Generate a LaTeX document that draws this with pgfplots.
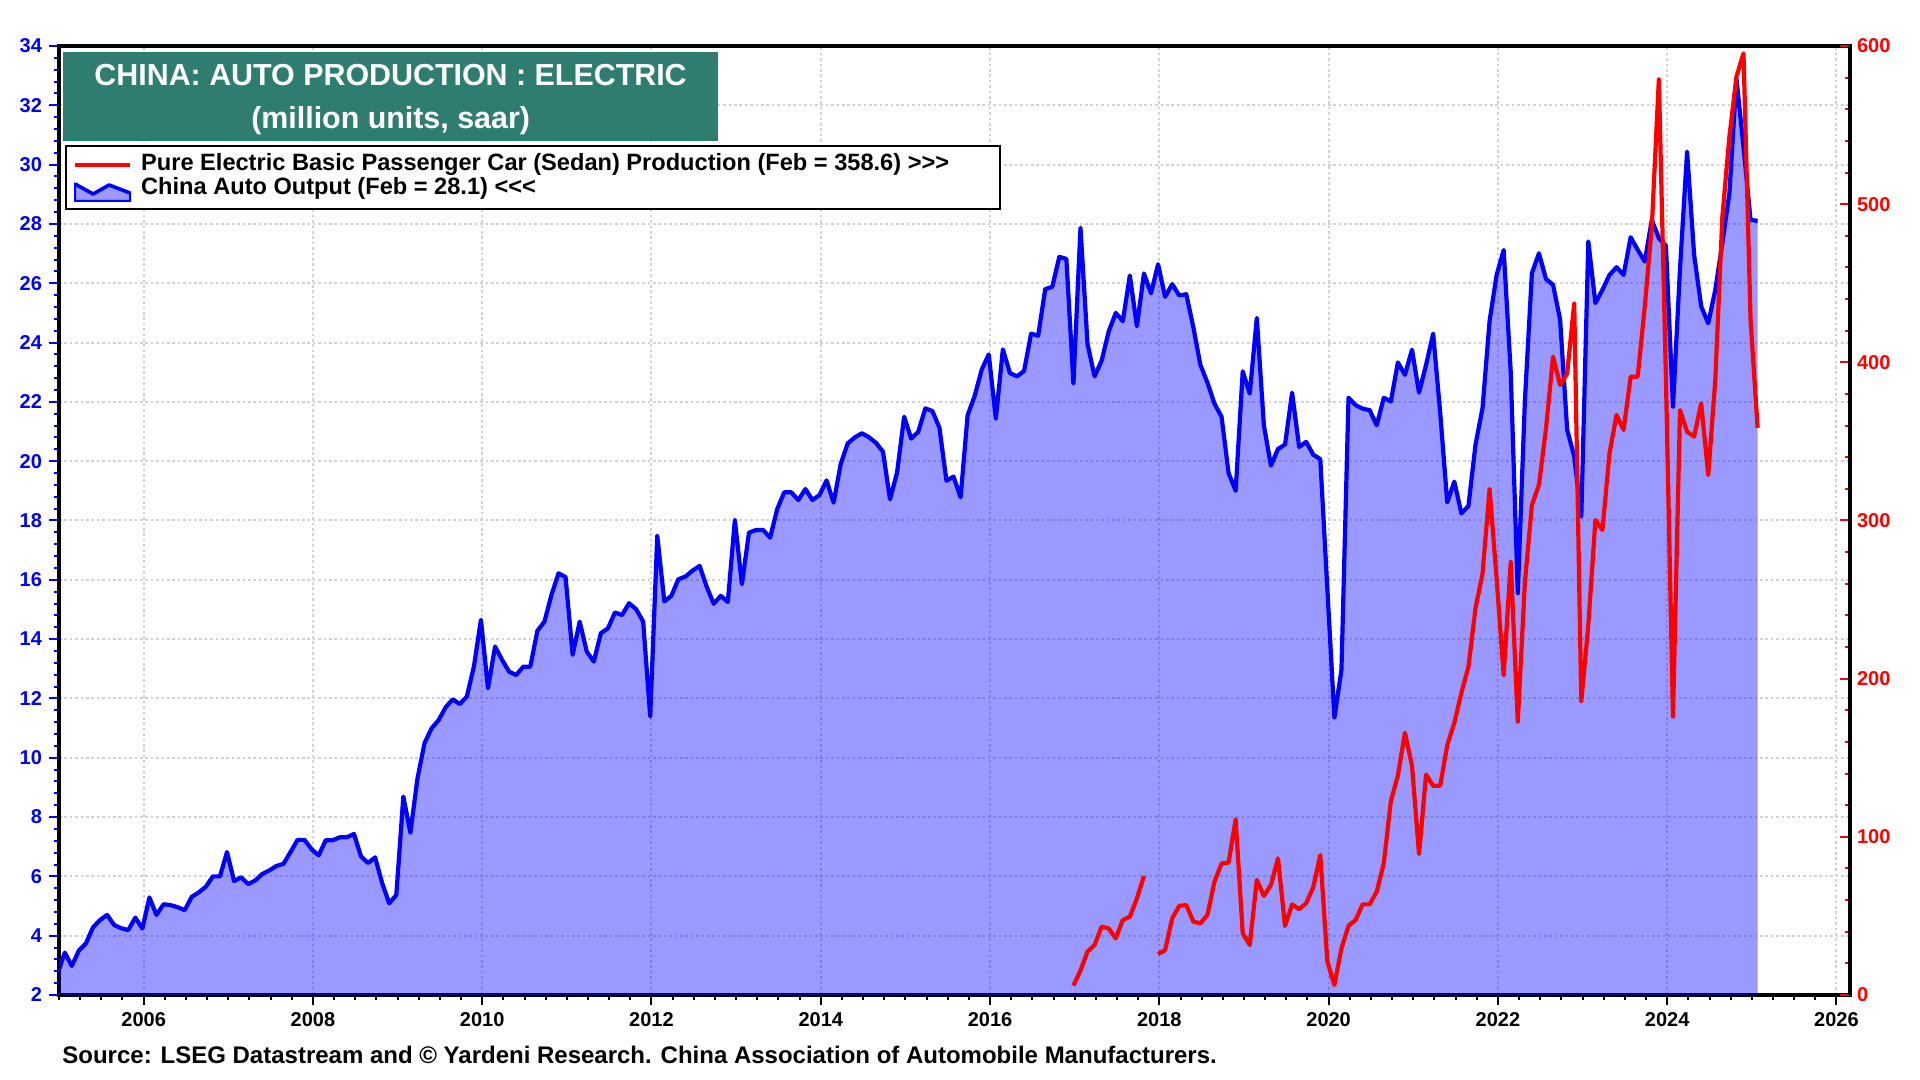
\documentclass[border=0pt]{standalone}
\usepackage{pgfplots}
\pgfplotsset{compat=1.18}
\usepackage{pgfplotstable}
\usepackage{fontspec}
\setmainfont{Liberation Sans}
\definecolor{titlebox}{RGB}{47,125,112}

% China auto output, million units saar (k = months since Jan 2005)
\pgfplotstableread[row sep=\\]{
k v\\
0 2.73\\ 1 3.43\\ 2 2.98\\ 3 3.50\\ 4 3.74\\ 5 4.28\\ 6 4.53\\ 7 4.70\\ 8 4.36\\ 9 4.25\\ 10 4.19\\ 11 4.61\\
12 4.24\\ 13 5.29\\ 14 4.70\\ 15 5.06\\ 16 5.03\\ 17 4.96\\ 18 4.86\\ 19 5.31\\ 20 5.46\\ 21 5.65\\ 22 6.00\\ 23 6.00\\
24 6.82\\ 25 5.84\\ 26 5.97\\ 27 5.74\\ 28 5.86\\ 29 6.08\\ 30 6.20\\ 31 6.35\\ 32 6.42\\ 33 6.82\\ 34 7.23\\ 35 7.23\\
36 6.91\\ 37 6.71\\ 38 7.22\\ 39 7.22\\ 40 7.32\\ 41 7.32\\ 42 7.43\\ 43 6.67\\ 44 6.45\\ 45 6.64\\ 46 5.77\\ 47 5.09\\
48 5.37\\ 49 8.69\\ 50 7.47\\ 51 9.30\\ 52 10.49\\ 53 10.99\\ 54 11.27\\ 55 11.70\\ 56 11.97\\ 57 11.81\\ 58 12.06\\ 59 13.07\\
60 14.65\\ 61 12.34\\ 62 13.75\\ 63 13.30\\ 64 12.90\\ 65 12.79\\ 66 13.07\\ 67 13.07\\ 68 14.28\\ 69 14.59\\ 70 15.49\\ 71 16.22\\
72 16.09\\ 73 13.47\\ 74 14.59\\ 75 13.58\\ 76 13.24\\ 77 14.20\\ 78 14.36\\ 79 14.90\\ 80 14.81\\ 81 15.21\\ 82 15.01\\ 83 14.59\\
84 11.39\\ 85 17.49\\ 86 15.27\\ 87 15.46\\ 88 16.02\\ 89 16.11\\ 90 16.31\\ 91 16.47\\ 92 15.77\\ 93 15.19\\ 94 15.46\\ 95 15.25\\
96 18.02\\ 97 15.85\\ 98 17.59\\ 99 17.68\\ 100 17.68\\ 101 17.42\\ 102 18.38\\ 103 18.95\\ 104 18.95\\ 105 18.69\\ 106 19.06\\ 107 18.69\\
108 18.86\\ 109 19.35\\ 110 18.60\\ 111 19.90\\ 112 20.60\\ 113 20.80\\ 114 20.94\\ 115 20.81\\ 116 20.62\\ 117 20.32\\ 118 18.71\\ 119 19.62\\
120 21.50\\ 121 20.76\\ 122 20.99\\ 123 21.78\\ 124 21.69\\ 125 21.13\\ 126 19.34\\ 127 19.48\\ 128 18.78\\ 129 21.55\\ 130 22.20\\ 131 23.09\\
132 23.60\\ 133 21.43\\ 134 23.77\\ 135 22.97\\ 136 22.86\\ 137 23.04\\ 138 24.30\\ 139 24.23\\ 140 25.80\\ 141 25.88\\ 142 26.89\\ 143 26.82\\
144 22.62\\ 145 27.87\\ 146 23.95\\ 147 22.86\\ 148 23.39\\ 149 24.37\\ 150 25.00\\ 151 24.72\\ 152 26.26\\ 153 24.55\\ 154 26.33\\ 155 25.66\\
156 26.64\\ 157 25.54\\ 158 25.97\\ 159 25.59\\ 160 25.63\\ 161 24.52\\ 162 23.25\\ 163 22.65\\ 164 21.94\\ 165 21.50\\ 166 19.60\\ 167 19.00\\
168 23.03\\ 169 22.28\\ 170 24.83\\ 171 21.21\\ 172 19.85\\ 173 20.41\\ 174 20.56\\ 175 22.31\\ 176 20.48\\ 177 20.65\\ 178 20.22\\ 179 20.07\\
180 15.69\\ 181 11.35\\ 182 12.97\\ 183 22.14\\ 184 21.89\\ 185 21.77\\ 186 21.72\\ 187 21.21\\ 188 22.14\\ 189 22.01\\ 190 23.33\\ 191 22.91\\
192 23.76\\ 193 22.31\\ 194 23.25\\ 195 24.30\\ 196 21.63\\ 197 18.61\\ 198 19.31\\ 199 18.24\\ 200 18.49\\ 201 20.55\\ 202 21.79\\ 203 24.73\\
204 26.28\\ 205 27.12\\ 206 23.00\\ 207 15.55\\ 208 22.00\\ 209 26.34\\ 210 27.01\\ 211 26.14\\ 212 25.95\\ 213 24.77\\ 214 21.06\\ 215 20.16\\
216 18.13\\ 217 27.41\\ 218 25.33\\ 219 25.78\\ 220 26.28\\ 221 26.54\\ 222 26.28\\ 223 27.55\\ 224 27.13\\ 225 26.73\\ 226 28.14\\ 227 27.52\\
228 27.26\\ 229 21.84\\ 230 26.50\\ 231 30.44\\ 232 26.96\\ 233 25.22\\ 234 24.65\\ 235 25.78\\ 236 27.35\\ 237 29.04\\ 238 32.90\\ 239 30.60\\
240 28.14\\ 241 28.10\\
}\autotab

% pure electric sedan production (right axis)
\pgfplotstableread[row sep=\\]{
k v\\
144 6.0\\ 145 15.5\\ 146 27.4\\ 147 31.6\\ 148 43.2\\ 149 42.1\\ 150 35.8\\ 151 47.4\\ 152 49.5\\ 153 61.1\\ 154 75.2\\ 155 nan\\
156 25.9\\ 157 28.4\\ 158 48.5\\ 159 56.3\\ 160 56.9\\ 161 46.4\\ 162 45.3\\ 163 50.6\\ 164 71.6\\ 165 83.2\\ 166 83.7\\ 167 111.1\\
168 39.0\\ 169 31.6\\ 170 72.7\\ 171 62.6\\ 172 69.5\\ 173 86.4\\ 174 43.6\\ 175 57.3\\ 176 54.2\\ 177 58.0\\ 178 68.1\\ 179 88.5\\
180 21.1\\ 181 6.3\\ 182 29.5\\ 183 43.8\\ 184 47.4\\ 185 57.3\\ 186 57.3\\ 187 65.3\\ 188 83.2\\ 189 122.5\\ 190 138.7\\ 191 165.8\\
192 145.1\\ 193 89.1\\ 194 139.3\\ 195 132.3\\ 196 132.3\\ 197 158.0\\ 198 172.0\\ 199 191.0\\ 200 207.4\\ 201 244.5\\ 202 266.3\\ 203 320.0\\
204 262.9\\ 205 202.0\\ 206 274.0\\ 207 172.8\\ 208 260.3\\ 209 309.8\\ 210 322.4\\ 211 358.2\\ 212 403.6\\ 213 385.6\\ 214 393.0\\ 215 437.3\\
216 185.5\\ 217 233.9\\ 218 300.3\\ 219 294.0\\ 220 342.4\\ 221 366.7\\ 222 357.2\\ 223 390.9\\ 224 390.9\\ 225 435.2\\ 226 485.7\\ 227 578.9\\
228 390.0\\ 229 176.0\\ 230 369.8\\ 231 356.1\\ 232 353.0\\ 233 374.1\\ 234 328.7\\ 235 388.8\\ 236 492.0\\ 237 542.6\\ 238 580.6\\ 239 595.3\\
240 426.7\\ 241 358.6\\
}\evtab

\pgfplotsset{
  chartbase/.style={
    scale only axis, width=895.5pt, height=474.5pt,
    at={(0pt,0pt)}, anchor=south west,
    xmin=2005, xmax=2026.16,
    tick align=outside,
    major tick length=5pt, minor tick length=2.5pt,
    every tick label/.append style={font=\bfseries\fontsize{10}{12}\selectfont},
    /pgf/number format/assume math mode=true,
    axis line style={black, line width=1.75pt},
  }
}

\begin{document}
\begin{tikzpicture}
\path[use as bounding box] (-29.5pt,-42.5pt) rectangle (930.5pt,497.5pt);

\begin{axis}[chartbase,
  ymin=2, ymax=34, ytick={2,4,...,34}, minor y tick num=4,
  xtick={2006,2008,...,2026}, minor xtick={2005,2005.25,...,2026},
  xticklabel style={/pgf/number format/1000 sep={}},
  yticklabel style={blue},
  xtick pos=left, ytick pos=left,
  x tick style={black, line width=1pt},
  y tick style={blue, line width=1pt},
  grid=major,
  major grid style={gray!35, line width=1pt, dash pattern=on 1.3pt off 1.4pt},
]
\addplot[draw=none, fill=blue, fill opacity=0.4]
  table[x expr=2004.985+\thisrow{k}/12, y=v]{\autotab} \closedcycle;
\addplot[blue, line width=2.1pt, line join=round]
  table[x expr=2004.985+\thisrow{k}/12, y=v]{\autotab};
\end{axis}

\begin{axis}[chartbase,
  axis y line*=right, axis x line=none,
  tick align=inside,
  ymin=0, ymax=600, ytick={0,100,...,600}, minor y tick num=4,
  yticklabel style={red},
  y tick style={red, line width=1pt},
  unbounded coords=jump,
  legend cell align=left,
  legend style={at={(axis description cs:0,1)}, anchor=north west,
    xshift=3pt, yshift=-49.5pt, draw=black, line width=1pt, fill=white,
    inner xsep=3.5pt, inner ysep=3.5pt, row sep=0pt, column sep=4.5pt,
    font=\bfseries\fontsize{11.8}{14}\selectfont,
    nodes={inner sep=0pt, text height=9pt, text depth=3pt}},
  legend image code/.code={\draw[#1] (0pt,0pt) -- (27.5pt,0pt);},
]
\addplot[red, line width=2.1pt, line join=round]
  table[x expr=2004.985+\thisrow{k}/12, y=v]{\evtab};
\addlegendentry{\makebox[426pt][l]{Pure Electric Basic Passenger Car (Sedan) Production (Feb = 358.6) >{}>{}>}}
\addlegendimage{legend image code/.code={
  \fill[blue, fill opacity=0.4] (0pt,-6pt) -- (0pt,2.5pt) -- (9pt,-2.5pt) -- (17pt,2pt) -- (27.5pt,-2pt) -- (27.5pt,-6pt) -- cycle;
  \draw[blue, line width=1.8pt, line join=round] (0pt,2.5pt) -- (9pt,-2.5pt) -- (17pt,2pt) -- (27.5pt,-2pt);}}
\addlegendentry{China Auto Output (Feb = 28.1) <{}<{}<}
\end{axis}

\fill[titlebox] (2pt,427pt) rectangle (329.5pt,471.5pt);
\node[white, font=\bfseries\fontsize{15.2}{17}\selectfont] at (165.8pt,460pt) {CHINA: AUTO PRODUCTION : ELECTRIC};
\node[white, font=\bfseries\fontsize{15.2}{17}\selectfont] at (165.8pt,437pt) {(million units, saar)};

\node[anchor=west, inner sep=0pt, font=\bfseries\fontsize{12}{14}\selectfont] at (1.5pt,-30pt)
  {Source: LSEG Datastream and © Yardeni Research. China Association of Automobile Manufacturers.};
\end{tikzpicture}
\end{document}
